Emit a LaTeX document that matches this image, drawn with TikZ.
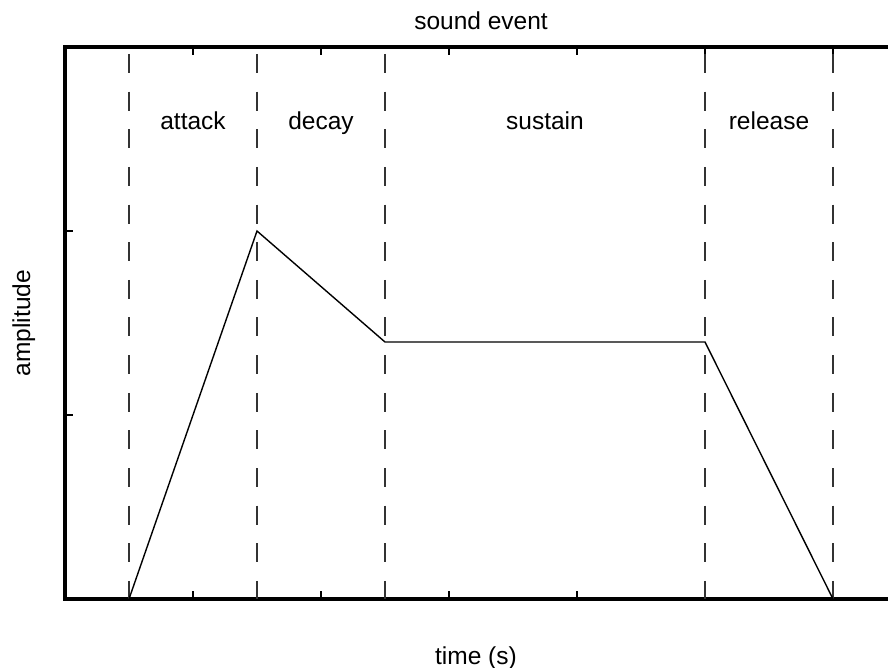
\documentclass[tikz,border=0pt]{standalone}
\usepackage{fontspec}
\setmainfont{Liberation Sans}
\begin{document}
\begin{tikzpicture}[x=1pt,y=-1pt,
  axis/.style={line width=3.4pt,line cap=rect},
  tickline/.style={line width=2.6pt},
  phase/.style={line width=1.5pt,draw=black!80,dash pattern=on 19pt off 18.64pt},
  env/.style={line width=1.4pt,line join=miter},
  lbl/.style={font=\fontsize{24.5}{28}\selectfont,anchor=base,inner sep=0pt}]
\useasboundingbox (0,0) rectangle (888,668);
% axes
\coordinate (tl) at (65,47);
\coordinate (bl) at (65,599);
\coordinate (tr) at (890,47);
\coordinate (br) at (890,599);
\draw[axis] (tr) -- (tl) -- (bl) -- (br);
% x ticks
\foreach \x in {193,321,449,577,705,833}{
  \draw[tickline] (\x,599) -- (\x,591);
  \draw[tickline] (\x,47) -- (\x,55);
}
% y ticks
\foreach \y in {231,415}{
  \draw[tickline] (65,\y) -- (73,\y);
}
% phase lines
\foreach \x in {129,257,385,705,833}{
  \draw[phase] (\x,54) -- (\x,599);
}
% envelope
\coordinate (p0) at (129,599);
\coordinate (p1) at (257,231);
\coordinate (p2) at (385,342);
\coordinate (p3) at (705,342);
\coordinate (p4) at (833,599);
\draw[env] (p0) -- (p1) -- (p2) -- (p3) -- (p4);
% labels
\node[lbl] (title) at (481,30) {sound event};
\node[lbl] (attack) at (193,130) {attack};
\node[lbl] (decay) at (321,130) {decay};
\node[lbl] (sustain) at (545,130) {sustain};
\node[lbl] (release) at (769,130) {release};
\node[lbl] (xlab) at (476,664) {time (s)};
\node[lbl,rotate=90] (ylab) at (30,323) {amplitude};
\end{tikzpicture}
\end{document}
